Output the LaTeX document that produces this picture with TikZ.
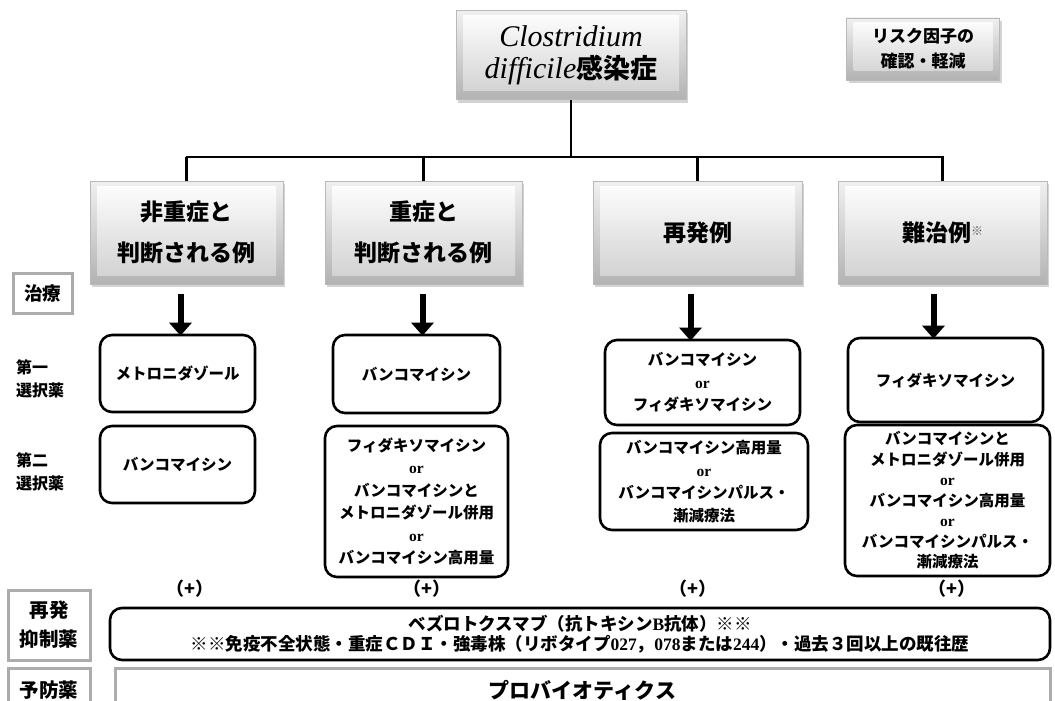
\documentclass[tikz,border=0pt]{standalone}
\usepackage{fontspec}
\setmainfont{Liberation Serif}
\newfontfamily\jp{Noto Sans CJK JP}
\usetikzlibrary{arrows.meta,shadows}
\begin{document}
\begin{tikzpicture}[x=1pt,y=-1pt,
  bevel/.style={rectangle, draw=gray!55, line width=0.6pt, top color=gray!12, bottom color=gray!60,
    drop shadow={opacity=0.35,shadow xshift=2pt,shadow yshift=-3pt},
    path picture={\shade[top color=white,bottom color=gray!38]
      ([xshift=7pt,yshift=-5pt]path picture bounding box.north west) rectangle
      ([xshift=-7pt,yshift=9pt]path picture bounding box.south east);},
    align=center, inner sep=0pt},
  catbox/.style={bevel, minimum height=103pt, font=\jp\bfseries\fontsize{23}{41}\selectfont},
  drug/.style={rectangle, rounded corners=12pt, draw, line width=2.6pt, align=center, inner sep=0pt,
    font=\jp\bfseries\fontsize{15.5}{22.5}\selectfont},
  graybox/.style={rectangle, draw=gray!65, line width=3pt, align=center, inner sep=0pt,
    font=\jp\bfseries\fontsize{19.5}{29}\selectfont},
  sidelab/.style={anchor=west, align=left, inner sep=0pt, font=\jp\bfseries\fontsize{16}{23}\selectfont},
  plus/.style={inner sep=0pt, font=\jp\bfseries\fontsize{18}{20}\selectfont},
  conn/.style={line width=2.8pt},
  bigarrow/.style={line width=6pt, -{Triangle[width=22pt,length=13pt]}}
]
\path[use as bounding box] (0,0) rectangle (1055,701);
\clip (0,0) rectangle (1055,701);

% top boxes
\node[bevel, minimum width=230pt, minimum height=89pt, font=\fontsize{30}{32}\selectfont] (top) at (571,55)
  {\itshape Clostridium\\
   {\itshape difficile}{\jp\bfseries\fontsize{27}{32}\selectfont 感染症}};
\node[bevel, minimum width=153pt, minimum height=62pt, font=\jp\bfseries\fontsize{17}{25}\selectfont] (risk) at (923,49)
  {リスク因子の\\確認・軽減};

% category boxes
\node[catbox, minimum width=193pt] (cat1) at (186.5,232.5) {非重症と\\判断される例};
\node[catbox, minimum width=197pt] (cat2) at (423.5,232.5) {重症と\\判断される例};
\node[catbox, minimum width=209pt] (cat3) at (697.5,232.5) {再発例};
\node[catbox, minimum width=209pt] (cat4) at (942.5,232.5) {難治例{\fontsize{12}{12}\selectfont\raisebox{6pt}{\color{gray!70!black}※}}};

% tree connectors
\coordinate (busL) at (187,157);
\coordinate (busR) at (943,157);
\draw[conn, line cap=rect] (busL) -- (busR);
\draw[conn] (top.south) -- (top.south |- busL);
\draw[conn] (cat1.north) -- (cat1.north |- busL);
\draw[conn] (cat2.north) -- (cat2.north |- busL);
\draw[conn] (cat3.north) -- (cat3.north |- busL);
\draw[conn] (cat4.north) -- (cat4.north |- busL);

% left labels
\node[graybox, minimum width=59pt, minimum height=40pt, font=\jp\bfseries\fontsize{18.5}{24}\selectfont] (tx) at (42.5,293) {治療};
\node[sidelab] (first) at (16,379) {第一\\選択薬};
\node[sidelab] (second) at (16,472) {第二\\選択薬};

% drug boxes
\node[drug, minimum width=155pt, minimum height=77pt] (a1) at (177.5,373.5) {メトロニダゾール};
\node[drug, minimum width=155pt, minimum height=77pt] (a2) at (177.5,464.5) {バンコマイシン};
\node[drug, minimum width=167pt, minimum height=78pt] (b1) at (416.5,374) {バンコマイシン};
\node[drug, minimum width=183pt, minimum height=151pt] (b2) at (416.5,501.5)
  {フィダキソマイシン\\{\rmfamily or}\\バンコマイシンと\\メトロニダゾール併用\\{\rmfamily or}\\バンコマイシン高用量};
\node[drug, minimum width=195pt, minimum height=85pt] (c1) at (702.5,382.5)
  {バンコマイシン\\{\rmfamily or}\\フィダキソマイシン};
\node[drug, minimum width=208pt, minimum height=97pt] (c2) at (704,481.5)
  {バンコマイシン高用量\\{\rmfamily or}\\バンコマイシンパルス・\\漸減療法};
\node[drug, minimum width=195pt, minimum height=84pt] (d1) at (945.5,380) {フィダキソマイシン};
\node[drug, minimum width=205pt, minimum height=151pt, font=\jp\bfseries\fontsize{15.5}{20.5}\selectfont] (d2) at (947.5,500.5)
  {バンコマイシンと\\メトロニダゾール併用\\{\rmfamily or}\\バンコマイシン高用量\\{\rmfamily or}\\バンコマイシンパルス・\\漸減療法};

% big arrows
\draw[bigarrow] ([xshift=-6pt,yshift=-10pt]cat1.south) -- ([xshift=-6pt,yshift=-2pt]cat1.south |- a1.north);
\draw[bigarrow] ([xshift=-1pt,yshift=-10pt]cat2.south) -- ([xshift=-1pt,yshift=-2pt]cat2.south |- b1.north);
\draw[bigarrow] ([xshift=-7pt,yshift=-10pt]cat3.south) -- ([xshift=-7pt,yshift=-2pt]cat3.south |- c1.north);
\draw[bigarrow] ([xshift=-9pt,yshift=-10pt]cat4.south) -- ([xshift=-9pt,yshift=-2pt]cat4.south |- d1.north);

% (+) labels
\node[plus] (p1) at (190,589) {（+）};
\node[plus] (p2) at (427,589) {（+）};
\node[plus] (p3) at (693,589) {（+）};
\node[plus] (p4) at (952,589) {（+）};

% bottom rows
\node[graybox, minimum width=82pt, minimum height=70pt] (rec) at (49,625) {再発\\抑制薬};
\node[drug, minimum width=940pt, minimum height=52pt, font=\jp\bfseries\fontsize{17.5}{20}\selectfont] (bez) at (580,634)
  {ベズロトクスマブ（抗トキシン{\rmfamily\bfseries B}抗体）※※\\
   ※※免疫不全状態・重症ＣＤＩ・強毒株（リボタイプ{\rmfamily\bfseries 027}，{\rmfamily\bfseries 078}または{\rmfamily\bfseries 244}）・過去３回以上の既往歴};
\node[graybox, minimum width=82pt, minimum height=44pt] (prev) at (49,690) {予防薬};
\node[graybox, minimum width=935pt, minimum height=44pt, font=\jp\bfseries\fontsize{21}{24}\selectfont] (pro) at (582.5,690) {プロバイオティクス};
\end{tikzpicture}
\end{document}
